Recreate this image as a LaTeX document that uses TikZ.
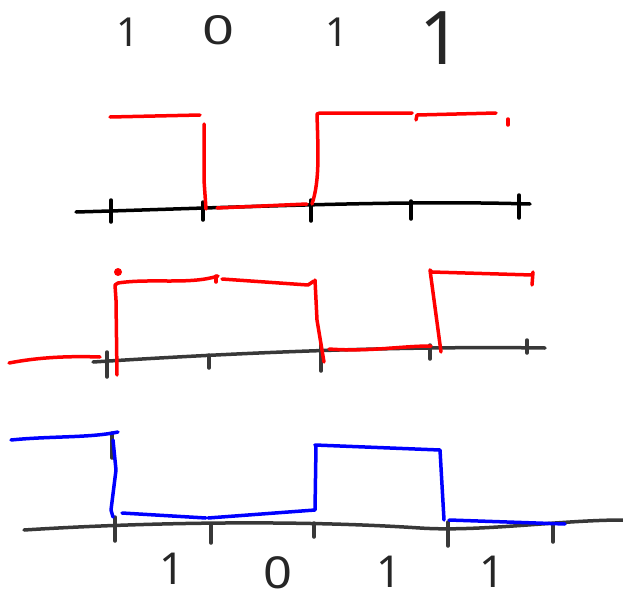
\documentclass[tikz,border=0pt]{standalone}
\usepackage{fontspec}
\usepackage{graphicx}
\setmainfont{Noto Sans}
\begin{document}
\begin{tikzpicture}[x=1pt,y=-1pt,
  pen/.style={line width=3.5pt,line cap=round,line join=round},
  axis/.style={pen,black!78},
  axistop/.style={pen,black},
  sigred/.style={pen,red},
  sigblue/.style={pen,blue},
  digit/.style={font=\fontsize{40}{42}\selectfont,text=black!85,inner sep=0pt},
  bdigit/.style={digit,font=\fontsize{44}{46}\selectfont}]
\useasboundingbox (0,0) rectangle (623,602);
% top digits
\node[digit] (t1) at (128,32) {1};
\node[digit] (t2) at (219,30) {\scalebox{1.4}[1]{0}};
\node[digit] (t3) at (337,32) {1};
\node[digit,font=\fontsize{74}{76}\selectfont] (t4) at (441,38) {1};
% top axis
\draw[axistop] (76,212) .. controls (250,207) and (400,200) .. (530,204);
\foreach \x/\a/\b in {111/200/222, 203/202/220, 311/200/221, 411/201/219, 519/195/218}
  \draw[axistop] (\x,\a) -- (\x,\b);
% top red waveform
\draw[sigred] (110,117) -- (200,115);
\draw[sigred] (204,124) -- (204,180) -- (206,209);
\draw[sigred] (217,208) -- (307,204);
\draw[sigred] (312,204) .. controls (320,180) and (318,150) .. (317,114) -- (320,113) -- (412,113);
\draw[sigred] (416,120) -- (417,115) -- (496,113);
\draw[sigred] (508,119) -- (508,125);
% middle axis
\draw[axis] (93,362) .. controls (250,352) and (400,346) .. (545,348);
\foreach \x/\a/\b in {107/352/377, 209/355/368, 321/345/371, 430/345/359, 527/340/353}
  \draw[axis] (\x,\a) -- (\x,\b);
% middle red waveform
\draw[sigred] (9,363) .. controls (40,357) and (70,356) .. (100,357);
\draw[sigred] (117,375) -- (116,300) -- (115,285) -- (118,283) .. controls (150,278) and (190,285) .. (218,276);
\draw[sigred] (216,276) -- (216,282);
\fill[red] (118,272) circle (4pt);
\draw[sigred] (222,279) -- (308,285) -- (314,281);
\draw[sigred] (315,280) -- (317,320) -- (322,350) -- (324,362);
\draw[sigred] (329,349) .. controls (370,352) and (400,346) .. (431,346);
\draw[sigred] (441,352) -- (430,270) -- (432,272) -- (532,275);
\draw[sigred] (533,272) -- (532,285);
% bottom axis
\draw[axis] (24,530) .. controls (150,522) and (300,520) .. (420,528) .. controls (480,532) and (560,520) .. (623,520);
\foreach \x/\a/\b in {115/517/541, 211/524/543, 314/523/537, 448/522/546, 553/525/542}
  \draw[axis] (\x,\a) -- (\x,\b);
\draw[axis] (112,433) -- (112,458);
% bottom blue waveform
\draw[sigblue] (11,440) .. controls (50,436) and (90,438) .. (118,432);
\draw[sigblue] (113,440) -- (116,470) -- (111,510) -- (113,517);
\draw[sigblue] (122,513) -- (206,518);
\draw[sigblue] (208,518) -- (315,510) -- (316,446) -- (315,445) -- (440,450) -- (444,520);
\draw[sigblue] (449,520) -- (565,524);
% bottom digits
\node[bdigit] (b1) at (172,569) {1};
\node[bdigit] (b2) at (278,573) {\scalebox{1.15}[1]{0}};
\node[bdigit] (b3) at (389,572) {1};
\node[bdigit] (b4) at (492,572) {1};
\end{tikzpicture}
\end{document}
